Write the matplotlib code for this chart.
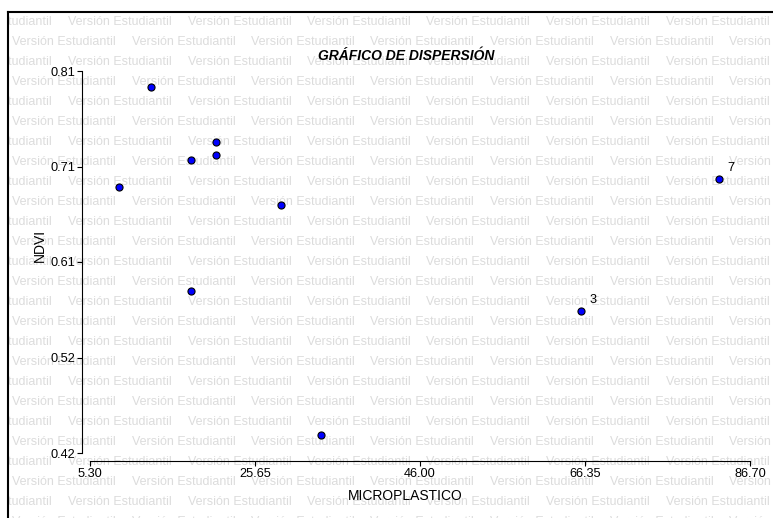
import matplotlib
matplotlib.use('Agg')
import matplotlib.pyplot as plt
from matplotlib.lines import Line2D

plt.rcParams.update({'font.family': 'Liberation Sans'})

# Datos
microplastico = [12.82, 20.84, 17.76, 20.84, 8.88, 28.86, 82.88, 17.76, 65.86, 33.79]
ndvi = [0.7937, 0.7375, 0.7191, 0.7242, 0.6916, 0.6732, 0.6997, 0.5854, 0.5650, 0.4384]
point_labels = ['', '', '', '', '', '', '7', '', '3', '']

x_ticks = [5.30, 25.65, 46.00, 66.35, 86.70]
x_tick_labels = ['5.30', '25.65', '46.00', '66.35', '86.70']
y_ticks = [0.42, 0.5175, 0.615, 0.7125, 0.81]
y_tick_labels = ['0.42', '0.52', '0.61', '0.71', '0.81']

W, H = 773, 518
DPI = 100


def fx(px):
    return px / W


def fy(py):
    return 1 - py / H


fig = plt.figure(figsize=(W / DPI, H / DPI), dpi=DPI)

# Marca de agua "Versión Estudiantil"
bg = fig.add_axes([fx(9), 0, 1 - fx(9), fy(13)])
bg.set_xlim(9, W)
bg.set_ylim(H, 13)
bg.axis('off')
bg.set_zorder(0)
pitch = 119.5
for row in range(26):
    y = 21.7 + 20 * row
    x = (68 if row % 2 == 0 else 12) - pitch
    while x < W:
        bg.text(x, y, 'Versión Estudiantil', fontsize=9, color='#dcdcdc',
                va='center', ha='left', clip_on=True)
        x += pitch

# Marco
fig.add_artist(Line2D([fx(8), fx(8)], [fy(12), 0], transform=fig.transFigure,
                      color='black', lw=1.5))
fig.add_artist(Line2D([fx(8), 1], [fy(12), fy(12)], transform=fig.transFigure,
                      color='black', lw=1.5))

# Ejes principales
ax = fig.add_axes([fx(82), fy(461), fx(750) - fx(82), fy(71) - fy(461)])
ax.set_facecolor('none')
ax.set_zorder(1)

xspan = x_ticks[-1] - x_ticks[0]
yspan = y_ticks[-1] - y_ticks[0]
ax.set_xlim(x_ticks[0] - xspan * 8 / 660, x_ticks[-1])
ax.set_ylim(y_ticks[0] - yspan * 8 / 382, y_ticks[-1])

ax.scatter(microplastico, ndvi, s=26, c='#0000ff', edgecolors='black',
           linewidths=0.8, zorder=3, clip_on=False)
for xv, yv, lab in zip(microplastico, ndvi, point_labels):
    if lab:
        ax.annotate(lab, (xv, yv), xytext=(6, 8), textcoords='offset points',
                    fontsize=9.2, ha='left', va='center')

for side in ['top', 'right']:
    ax.spines[side].set_visible(False)
ax.spines['left'].set_bounds(y_ticks[0], y_ticks[-1])
ax.spines['bottom'].set_bounds(x_ticks[0], x_ticks[-1])
for side in ['left', 'bottom']:
    ax.spines[side].set_linewidth(0.8)

ax.set_xticks(x_ticks)
ax.set_xticklabels(x_tick_labels)
ax.set_yticks(y_ticks)
ax.set_yticklabels(y_tick_labels)
ax.tick_params(direction='out', length=3.6, width=0.8, labelsize=9.2, pad=1.5)

fig.text(fx(406), fy(56), 'GRÁFICO DE DISPERSIÓN', ha='center', va='center',
         fontsize=10, fontweight='bold', fontstyle='italic')
fig.text(fx(405), fy(496), 'MICROPLASTICO', ha='center', va='center', fontsize=10)
fig.text(fx(40), fy(245), 'NDVI', ha='center', va='center', fontsize=10,
         rotation=90)

fig.savefig('out.png', dpi=DPI, facecolor='white')
